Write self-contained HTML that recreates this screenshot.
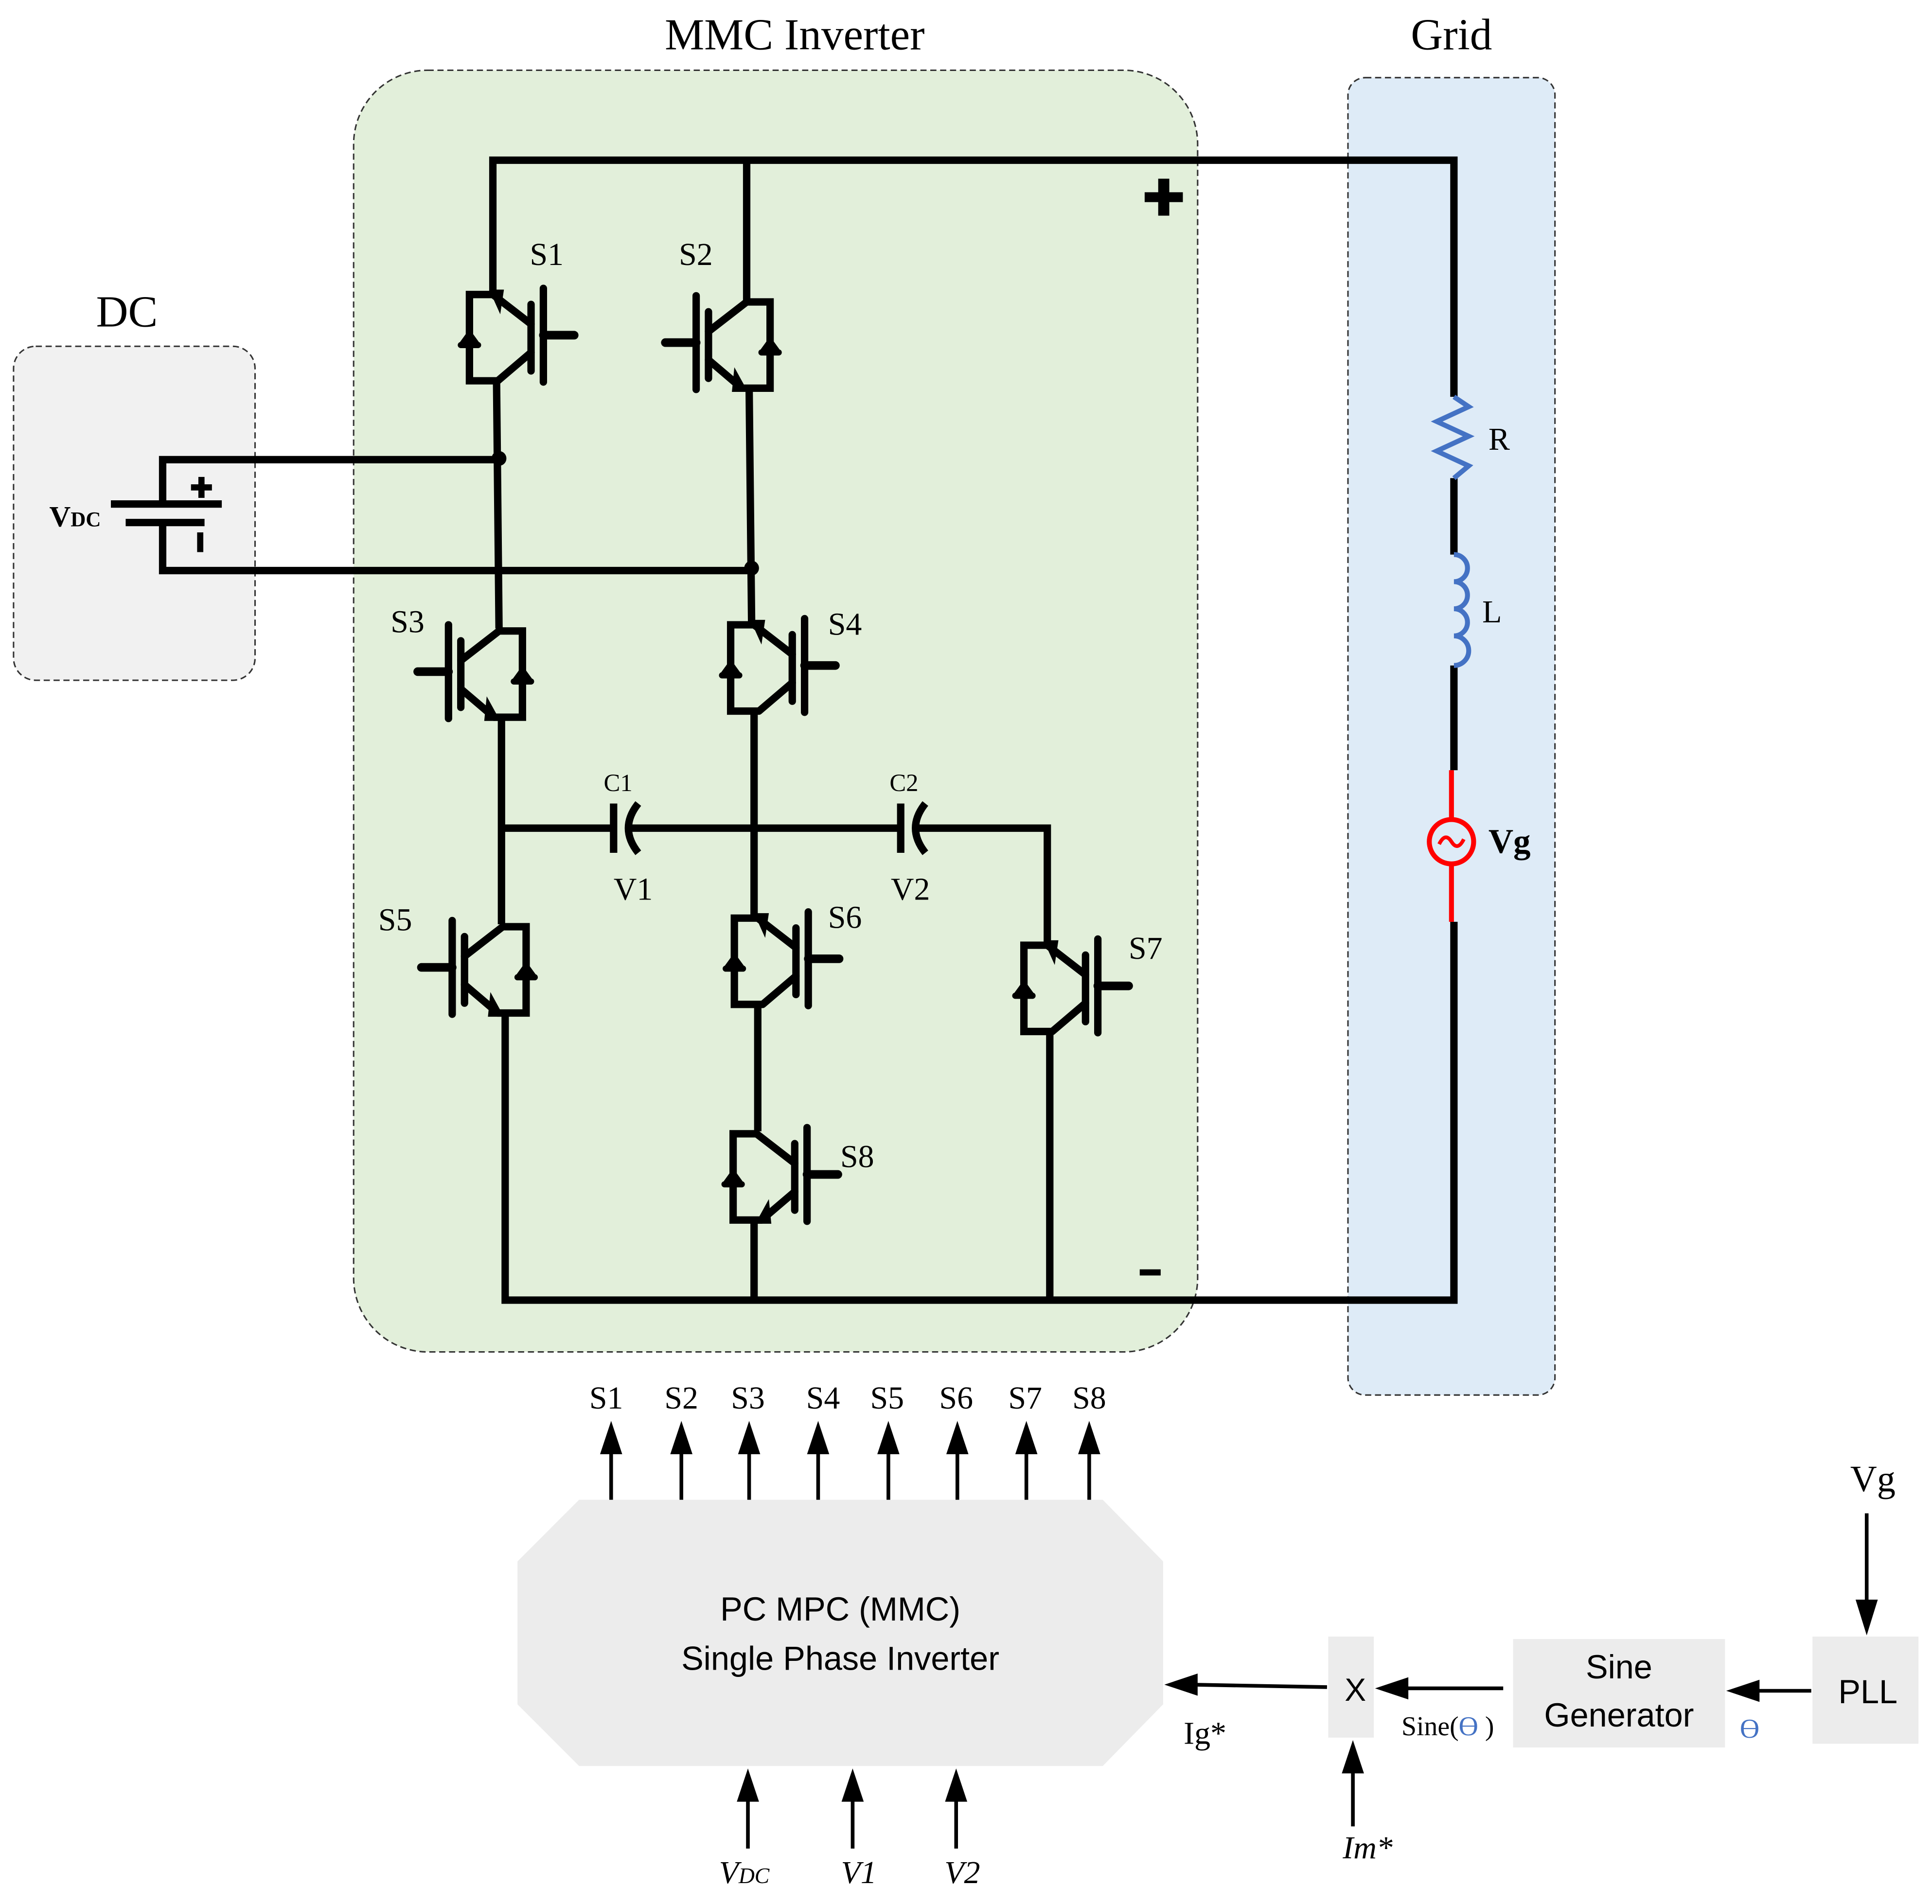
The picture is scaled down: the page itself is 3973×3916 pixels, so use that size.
<!DOCTYPE html>
<html><head><meta charset="utf-8"><style>
html,body{margin:0;padding:0;background:#fff;}
svg{display:block;}
text{font-family:"Liberation Serif",serif;fill:#000;}
.sans{font-family:"Liberation Sans",sans-serif;}
</style></head><body>
<svg width="3973" height="3916" viewBox="0 0 1568 1545" preserveAspectRatio="none" xmlns="http://www.w3.org/2000/svg">
<defs>
<g id="core" fill="none" stroke="#000" stroke-linecap="round">
  <path d="M0,-33 L-19,-33 L-19,37 L4,37" stroke-width="6" stroke-linecap="butt"/>
  <path d="M0,-33 L31,-9 M4,37 L31,14" stroke-width="6"/>
  <line x1="31" y1="-25" x2="31" y2="29" stroke-width="6"/>
  <line x1="41" y1="-38" x2="41" y2="38" stroke-width="6"/>
  <line x1="41" y1="0" x2="66" y2="0" stroke-width="7"/>
  <polygon points="-27,6 -11,6 -19,-5" fill="#000" stroke="none"/>
  <line x1="-26" y1="8" x2="-12" y2="8" stroke-width="5"/>
</g>
<g id="igA"><use href="#core"/><polygon points="-3,-37 9,-37 6,-17" fill="#000"/></g>
<g id="igB"><use href="#core"/><polygon points="-1,40 12,40 10,20" fill="#000"/></g>
</defs>

<!-- boxes -->
<rect x="11" y="281" width="196" height="271" rx="18" fill="#f1f1f1" stroke="#333" stroke-width="1.2" stroke-dasharray="5,3"/>
<rect x="287" y="57" width="685" height="1040" rx="60" fill="#e2efda" stroke="#333" stroke-width="1.2" stroke-dasharray="5,3"/>
<rect x="1094" y="63" width="168" height="1069" rx="14" fill="#deebf7" stroke="#333" stroke-width="1.2" stroke-dasharray="5,3"/>
<text x="645" y="40" font-size="36" text-anchor="middle">MMC Inverter</text>
<text x="1178" y="40" font-size="36" text-anchor="middle">Grid</text>
<text x="103" y="265" font-size="36" text-anchor="middle">DC</text>

<!-- wires -->
<g stroke="#000" stroke-width="6" fill="none">
<path d="M400,239 L400,130 L1180,130 L1180,322"/>
<line x1="606" y1="130" x2="606" y2="245"/>
<path d="M403,309 L405,510"/>
<path d="M608,314 L610,505"/>
<path d="M132,410 L132,373 L405,373"/>
<path d="M132,424 L132,463 L610,463"/>
<line x1="90" y1="409" x2="180" y2="409"/>
<line x1="102" y1="424" x2="166" y2="424"/>
<path d="M407,580 L407,750"/>
<path d="M407,672 L497,672"/>
<path d="M512,672 L730,672"/>
<path d="M745,672 L850,672 L850,765"/>
<path d="M612,577 L612,745"/>
<path d="M410,820 L410,1055 L1180,1055 L1180,748"/>
<path d="M615,815 L615,918"/>
<path d="M612,990 L612,1055"/>
<path d="M852,835 L852,1055"/>
<path d="M1180,388 L1180,450"/>
<path d="M1180,540 L1180,625"/>
<line x1="498" y1="652" x2="498" y2="692"/>
<path d="M518,652 Q502,672 518,692"/>
<line x1="731" y1="652" x2="731" y2="692"/>
<path d="M751,652 Q735,672 751,692"/>
</g>
<circle cx="405" cy="372" r="6"/>
<circle cx="610" cy="461" r="6"/>
<rect x="155" y="393" width="17" height="5"/><rect x="161" y="387" width="5" height="17"/>
<rect x="160" y="432" width="5" height="16"/>
<text x="40" y="427" font-size="24" font-weight="bold">V<tspan font-size="17">DC</tspan></text>

<!-- grid elements -->
<path d="M1180,322 L1192,330 L1166,342 L1192,354 L1166,366 L1192,378 L1180,388" stroke="#4472c4" stroke-width="4" fill="none"/>
<path d="M1180,450 a11,11 0 0 1 0,22 a11,11 0 0 1 0,22 a11,11 0 0 1 0,22 a11,11 0 0 1 0,24" stroke="#4472c4" stroke-width="4" fill="none"/>
<line x1="1178" y1="625" x2="1178" y2="665" stroke="#f00" stroke-width="4"/>
<line x1="1178" y1="701" x2="1178" y2="748" stroke="#f00" stroke-width="4"/>
<circle cx="1178" cy="683" r="18" fill="none" stroke="#f00" stroke-width="4"/>
<path d="M1168,685 q5,-10 10,-2 q5,8 10,-2" stroke="#f00" stroke-width="3" fill="none"/>
<text x="1208" y="365" font-size="26">R</text>
<text x="1203" y="505" font-size="26">L</text>
<text x="1208" y="692" font-size="28" font-weight="bold">Vg</text>
<rect x="929" y="156" width="31" height="8"/><rect x="940" y="145" width="9" height="30"/>
<rect x="925" y="1030" width="17" height="5"/>

<!-- IGBTs -->
<use href="#igA" transform="translate(400,272)"/>
<use href="#igB" transform="translate(606,278) scale(-1,1)"/>
<use href="#igB" transform="translate(405,545) scale(-1,1)"/>
<use href="#igA" transform="translate(612,540)"/>
<use href="#igB" transform="translate(408,785) scale(-1,1)"/>
<use href="#igA" transform="translate(615,778)"/>
<use href="#igA" transform="translate(850,800)"/>
<use href="#igB" transform="translate(614,953)"/>

<g font-size="26">
<text x="430" y="215">S1</text><text x="551" y="215">S2</text>
<text x="317" y="513">S3</text><text x="672" y="515">S4</text>
<text x="307" y="755">S5</text><text x="672" y="753">S6</text>
<text x="916" y="778">S7</text><text x="682" y="947">S8</text>
<text x="498" y="730">V1</text><text x="723" y="730">V2</text>
</g>
<text x="490" y="642" font-size="20">C1</text>
<text x="722" y="642" font-size="20">C2</text>

<!-- controller -->
<polygon points="470,1217 895,1217 944,1267 944,1383 895,1433 470,1433 420,1383 420,1267" fill="#ececec"/>
<text class="sans" x="682" y="1315" font-size="27" text-anchor="middle">PC MPC (MMC)</text>
<text class="sans" x="682" y="1355" font-size="27" text-anchor="middle">Single Phase Inverter</text>

<g stroke="#000" stroke-width="3">
<line x1="496" y1="1217" x2="496" y2="1175"/><line x1="553" y1="1217" x2="553" y2="1175"/>
<line x1="608" y1="1217" x2="608" y2="1175"/><line x1="664" y1="1217" x2="664" y2="1175"/>
<line x1="721" y1="1217" x2="721" y2="1175"/><line x1="777" y1="1217" x2="777" y2="1175"/>
<line x1="833" y1="1217" x2="833" y2="1175"/><line x1="884" y1="1217" x2="884" y2="1175"/>
<line x1="607" y1="1500" x2="607" y2="1455"/><line x1="692" y1="1500" x2="692" y2="1455"/>
<line x1="776" y1="1500" x2="776" y2="1455"/>
<line x1="1077" y1="1369" x2="966" y2="1367"/>
<line x1="1220" y1="1370" x2="1137" y2="1370"/>
<line x1="1470" y1="1372" x2="1422" y2="1372"/>
<line x1="1515" y1="1228" x2="1515" y2="1300"/>
<line x1="1098" y1="1482" x2="1098" y2="1432"/>
</g>
<g fill="#000">
<polygon points="487,1180 505,1180 496,1153"/><polygon points="544,1180 562,1180 553,1153"/>
<polygon points="599,1180 617,1180 608,1153"/><polygon points="655,1180 673,1180 664,1153"/>
<polygon points="712,1180 730,1180 721,1153"/><polygon points="768,1180 786,1180 777,1153"/>
<polygon points="824,1180 842,1180 833,1153"/><polygon points="875,1180 893,1180 884,1153"/>
<polygon points="598,1462 616,1462 607,1435"/><polygon points="683,1462 701,1462 692,1435"/>
<polygon points="767,1462 785,1462 776,1435"/>
<polygon points="972,1358 972,1376 945,1367"/>
<polygon points="1143,1361 1143,1379 1116,1370"/>
<polygon points="1428,1363 1428,1381 1401,1372"/>
<polygon points="1506,1298 1524,1298 1515,1327"/>
<polygon points="1089,1439 1107,1439 1098,1412"/>
</g>
<g font-size="26" text-anchor="middle">
<text x="492" y="1143">S1</text><text x="553" y="1143">S2</text><text x="607" y="1143">S3</text>
<text x="668" y="1143">S4</text><text x="720" y="1143">S5</text><text x="776" y="1143">S6</text>
<text x="832" y="1143">S7</text><text x="884" y="1143">S8</text>
</g>
<g font-size="26" font-style="italic" text-anchor="middle">
<text x="604" y="1528">V<tspan font-size="18">DC</tspan></text>
<text x="697" y="1528">V1</text><text x="781" y="1528">V2</text>
<text x="1110" y="1508">Im*</text>
</g>
<text x="978" y="1415" font-size="26" text-anchor="middle">Ig*</text>
<text x="1520" y="1210" font-size="30" text-anchor="middle">Vg</text>

<rect x="1078" y="1328" width="37" height="82" fill="#ececec"/>
<text class="sans" x="1100" y="1380" font-size="26" text-anchor="middle">X</text>
<rect x="1228" y="1330" width="172" height="88" fill="#ececec"/>
<text class="sans" x="1314" y="1362" font-size="27" text-anchor="middle">Sine</text>
<text class="sans" x="1314" y="1401" font-size="27" text-anchor="middle">Generator</text>
<rect x="1471" y="1328" width="86" height="87" fill="#ececec"/>
<text class="sans" x="1516" y="1382" font-size="27" text-anchor="middle">PLL</text>
<text x="1175" y="1408" font-size="22" text-anchor="middle">Sine(<tspan style="fill:#4472c4">ϴ</tspan> )</text>
<text x="1420" y="1410" font-size="22" text-anchor="middle" style="fill:#4472c4">ϴ</text>
</svg>
</body></html>
